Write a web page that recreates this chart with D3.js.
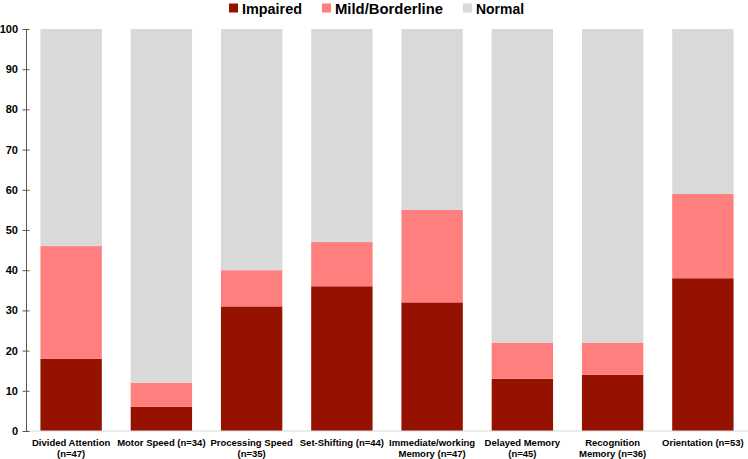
<!DOCTYPE html>
<html>
<head>
<meta charset="utf-8">
<script src="https://cdn.jsdelivr.net/npm/d3@7"></script>
<style>
  html, body { margin: 0; padding: 0; background: #fff; }
  svg { display: block; }
</style>
</head>
<body>
<svg id="chart" width="748" height="459"></svg>
<script>
const categories = [
  ["Divided Attention", "(n=47)"],
  ["Motor Speed (n=34)"],
  ["Processing Speed", "(n=35)"],
  ["Set-Shifting (n=44)"],
  ["Immediate/working", "Memory (n=47)"],
  ["Delayed Memory", "(n=45)"],
  ["Recognition", "Memory (n=36)"],
  ["Orientation (n=53)"]
];
const impaired = [18, 6, 31, 36, 32, 13, 14, 38];
const mild     = [28, 6,  9, 11, 23,  9,  8, 21];
const normal   = [54, 88, 60, 53, 45, 78, 78, 41];
const seriesNames = ["Impaired", "Mild/Borderline", "Normal"];
const seriesColors = ["#951100", "#FF7F7E", "#D9D9D9"];
const yTicks = [0, 10, 20, 30, 40, 50, 60, 70, 80, 90, 100];

const svg = d3.select("#chart");
const font = "'Liberation Sans', Arial, sans-serif";

const rows = categories.map((c, i) => ({
  key: i, Impaired: impaired[i], "Mild/Borderline": mild[i], Normal: normal[i]
}));
const stack = d3.stack().keys(seriesNames)(rows);

const x = d3.scaleBand().domain(d3.range(categories.length))
  .range([26, 748]).paddingInner(0.32).paddingOuter(0.16);
const y = d3.scaleLinear().domain([0, 100]).range([431, 29]);

// bars
svg.append("g").selectAll("g").data(stack).join("g")
  .attr("fill", (d, i) => seriesColors[i])
  .selectAll("rect").data(d => d).join("rect")
  .attr("x", d => x(d.data.key))
  .attr("width", x.bandwidth())
  .attr("y", d => y(d[1]))
  .attr("height", d => y(d[0]) - y(d[1]));

// x baseline
svg.append("line")
  .attr("x1", 26).attr("x2", 748)
  .attr("y1", y(0)).attr("y2", y(0))
  .attr("stroke", "#d9d9d9").attr("stroke-width", 1);

// y axis
const yAxis = svg.append("g").attr("transform", "translate(26,0)")
  .call(d3.axisLeft(y).tickValues(yTicks).tickSize(4).tickPadding(4));
yAxis.select(".domain").attr("stroke", "#595959").attr("d", `M0.5,${y(100)}V${y(0)}`);
yAxis.selectAll(".tick line").attr("x1", -3.5).attr("x2", 3.5).attr("stroke", "#595959");
yAxis.selectAll(".tick text")
  .attr("x", -8)
  .attr("fill", "#000")
  .style("font-family", font).style("font-weight", "bold").style("font-size", "11px");

// x labels
const xl = svg.append("g");
categories.forEach((lines, i) => {
  const t = xl.append("text")
    .attr("text-anchor", "middle")
    .attr("x", x(i) + x.bandwidth() / 2)
    .attr("y", 446)
    .style("font-family", font).style("font-weight", "bold").style("font-size", "9.5px")
    .attr("fill", "#000");
  lines.forEach((ln, j) => {
    t.append("tspan").attr("x", x(i) + x.bandwidth() / 2).attr("dy", j === 0 ? 0 : 11).text(ln);
  });
});

// legend
const legendX = [229, 322, 463];
const legendW = [60, 108, 48];
const lg = svg.append("g");
seriesNames.forEach((name, i) => {
  lg.append("rect").attr("x", legendX[i]).attr("y", 3.5).attr("width", 9).attr("height", 9)
    .attr("fill", seriesColors[i]);
  lg.append("text").attr("x", legendX[i] + 13).attr("y", 14)
    .attr("textLength", legendW[i]).attr("lengthAdjust", "spacingAndGlyphs")
    .style("font-family", font).style("font-weight", "bold").style("font-size", "15.5px")
    .attr("fill", "#000").text(name);
});
</script>
</body>
</html>
